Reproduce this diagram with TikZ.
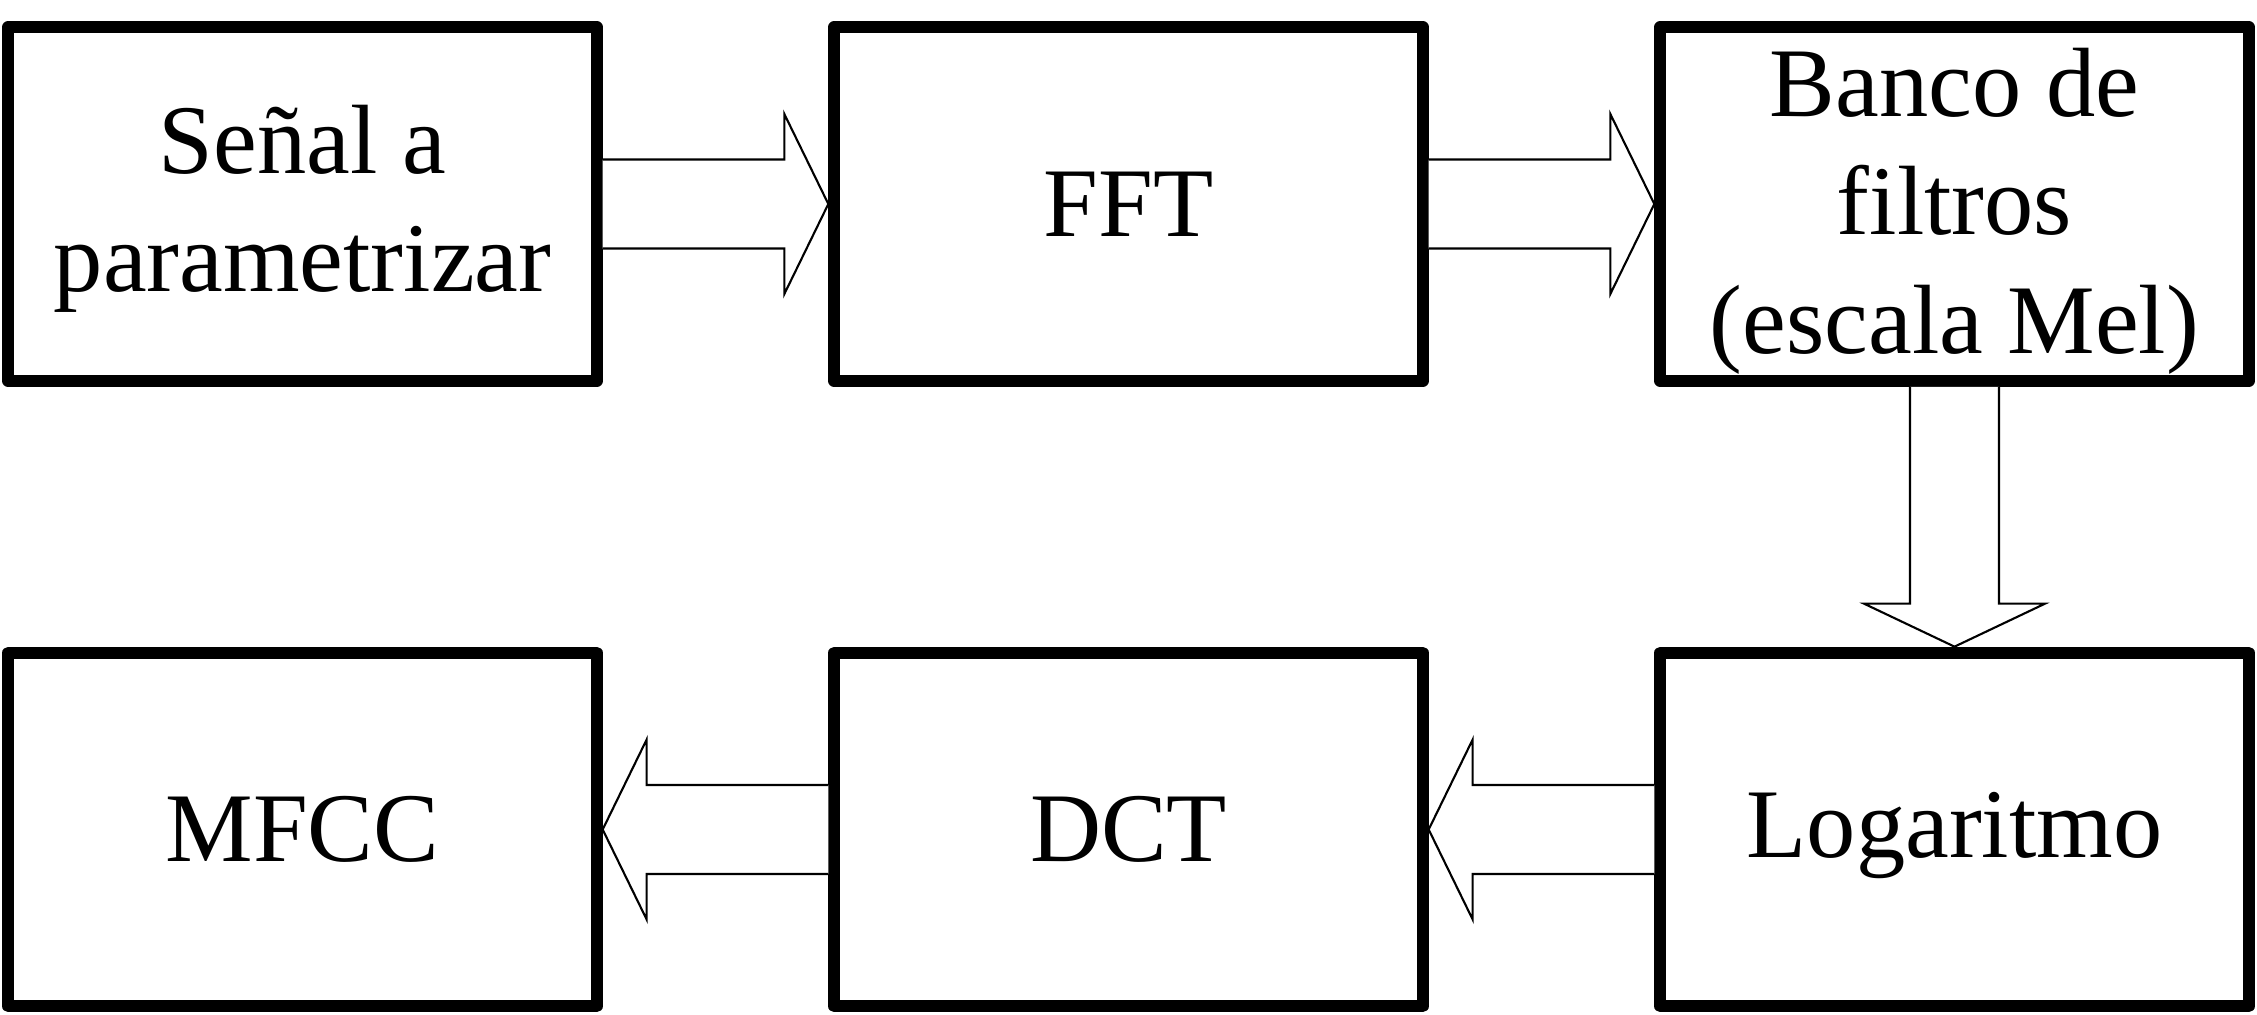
\documentclass[tikz,border=0pt]{standalone}
\usepackage{fontspec}
\setmainfont{Liberation Serif}
\usetikzlibrary{calc}
\newcommand{\topstrut}[1]{\rule{0pt}{#1}}
\begin{document}
\begin{tikzpicture}[x=0.01cm,y=-0.01cm,
  blockbox/.style={draw=black,line width=0.12cm,line join=round,fill=white,
    inner sep=0pt,minimum width=5.88cm,minimum height=3.535cm,align=center,
    font=\fontsize{28}{33.6}\selectfont},
  bigarrow/.style={draw=black,fill=white,line width=0.6pt,line join=miter}]
\useasboundingbox (0,0) rectangle (2257,1014);
\node[blockbox] (sig) at (302.5,204) {\topstrut{22pt}Señal a\\parametrizar};
\node[blockbox] (fft) at (1128.5,204) {FFT};
\node[blockbox] (mel) at (1954.5,204) {\topstrut{23.5pt}Banco de\\filtros\\(escala Mel)};
\node[blockbox] (mfcc) at (302.5,829.5) {MFCC};
\node[blockbox] (dct) at (1128.5,829.5) {DCT};
\node[blockbox] (log) at (1954.5,829.5) {\topstrut{22pt}Logaritmo};
% right-pointing arrows
\draw[bigarrow] ($(sig.east)+(0,-44.5)$) -- ($(fft.west)+(-44,-44.5)$) -- ($(fft.west)+(-44,-90)$)
  -- (fft.west) -- ($(fft.west)+(-44,90)$) -- ($(fft.west)+(-44,44.5)$) -- ($(sig.east)+(0,44.5)$);
\draw[bigarrow] ($(fft.east)+(0,-44.5)$) -- ($(mel.west)+(-44,-44.5)$) -- ($(mel.west)+(-44,-90)$)
  -- (mel.west) -- ($(mel.west)+(-44,90)$) -- ($(mel.west)+(-44,44.5)$) -- ($(fft.east)+(0,44.5)$);
% down arrow
\draw[bigarrow] ($(mel.south)+(-44.5,0)$) -- ($(log.north)+(-44.5,-43)$) -- ($(log.north)+(-90.5,-43)$)
  -- (log.north) -- ($(log.north)+(90.5,-43)$) -- ($(log.north)+(44.5,-43)$) -- ($(mel.south)+(44.5,0)$);
% left-pointing arrows
\draw[bigarrow] ($(log.west)+(0,-44.5)$) -- ($(dct.east)+(44,-44.5)$) -- ($(dct.east)+(44,-90)$)
  -- (dct.east) -- ($(dct.east)+(44,90)$) -- ($(dct.east)+(44,44.5)$) -- ($(log.west)+(0,44.5)$);
\draw[bigarrow] ($(dct.west)+(0,-44.5)$) -- ($(mfcc.east)+(44,-44.5)$) -- ($(mfcc.east)+(44,-90)$)
  -- (mfcc.east) -- ($(mfcc.east)+(44,90)$) -- ($(mfcc.east)+(44,44.5)$) -- ($(dct.west)+(0,44.5)$);
\end{tikzpicture}
\end{document}
